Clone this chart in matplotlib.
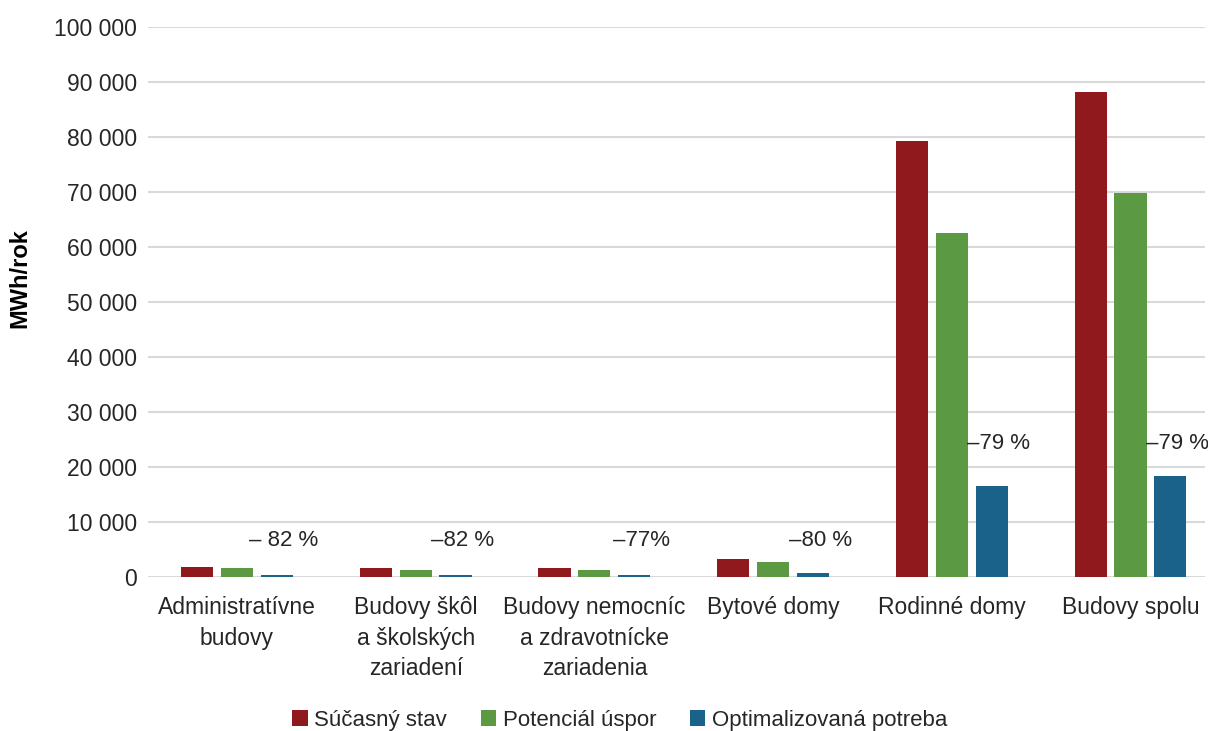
import matplotlib
matplotlib.use("Agg")
import matplotlib.pyplot as plt
import numpy as np
from matplotlib.patches import Patch

plt.rcParams['font.family'] = ['Liberation Sans', 'DejaVu Sans']

# building categories and energy demand (MWh/year)
categories = [
    "Administratívne\nbudovy",
    "Budovy škôl\na školských\nzariadení",
    "Budovy nemocníc\na zdravotnícke\nzariadenia",
    "Bytové domy",
    "Rodinné domy",
    "Budovy spolu",
]
current_state = [1900, 1600, 1700, 3300, 79200, 88200]
savings_potential = [1550, 1300, 1300, 2650, 62600, 69800]
optimised_demand = [350, 300, 400, 650, 16600, 18400]
reduction_labels = ["– 82 %", "–82 %", "–77%", "–80 %", "–79 %", "–79 %"]
label_heights = [6700, 6700, 6700, 6700, 24200, 24200]

series_names = ["Súčasný stav", "Potenciál úspor", "Optimalizovaná potreba"]
colours = ["#8F191D", "#5B9942", "#1B628A"]
grid_colour = "#D9D9D9"
text_colour = "#262626"

fig = plt.figure(figsize=(12.08, 7.31), dpi=100)
ax = fig.add_axes([148 / 1208, 154 / 731, (1205 - 148) / 1208, 550 / 731])

x = np.arange(len(categories))
step = 0.223
width = 0.18
for i, (vals, colour) in enumerate(zip([current_state, savings_potential, optimised_demand], colours)):
    ax.bar(x + (i - 1) * step, vals, width, color=colour, zorder=3)

for xi, txt, h in zip(x, reduction_labels, label_heights):
    ax.text(xi + step + 0.04, h, txt, ha="center", va="center",
            fontsize=16, color=text_colour)

ax.set_xlim(-0.498, 5.417)
ax.set_ylim(0, 100000)
ax.set_yticks(np.arange(0, 100001, 10000))
ax.set_yticklabels([f"{v:,}".replace(",", " ") for v in range(0, 100001, 10000)])
ax.yaxis.grid(True, color=grid_colour, linewidth=1.5, zorder=0)
ax.set_axisbelow(True)
for side in ["top", "right", "left", "bottom"]:
    ax.spines[side].set_visible(False)
ax.tick_params(axis="both", length=0, labelsize=16.5, colors=text_colour)
ax.tick_params(axis="y", pad=8)
ax.tick_params(axis="x", pad=14)
ax.set_xticks(x)
ax.set_xticklabels(categories, linespacing=1.4)
ax.set_ylabel("MWh/rok", fontsize=17, fontweight="bold", color="black")
ax.yaxis.set_label_coords(-0.110, 0.544)

handles = [Patch(facecolor=c, label=n) for c, n in zip(colours, series_names)]
fig.legend(handles=handles, loc="lower center", bbox_to_anchor=(0.513, -0.027), ncol=3,
           frameon=False, fontsize=16, handlelength=0.7, handleheight=0.7,
           handletextpad=0.3, columnspacing=1.5, labelcolor=text_colour)

fig.savefig("out.png", dpi=100)
